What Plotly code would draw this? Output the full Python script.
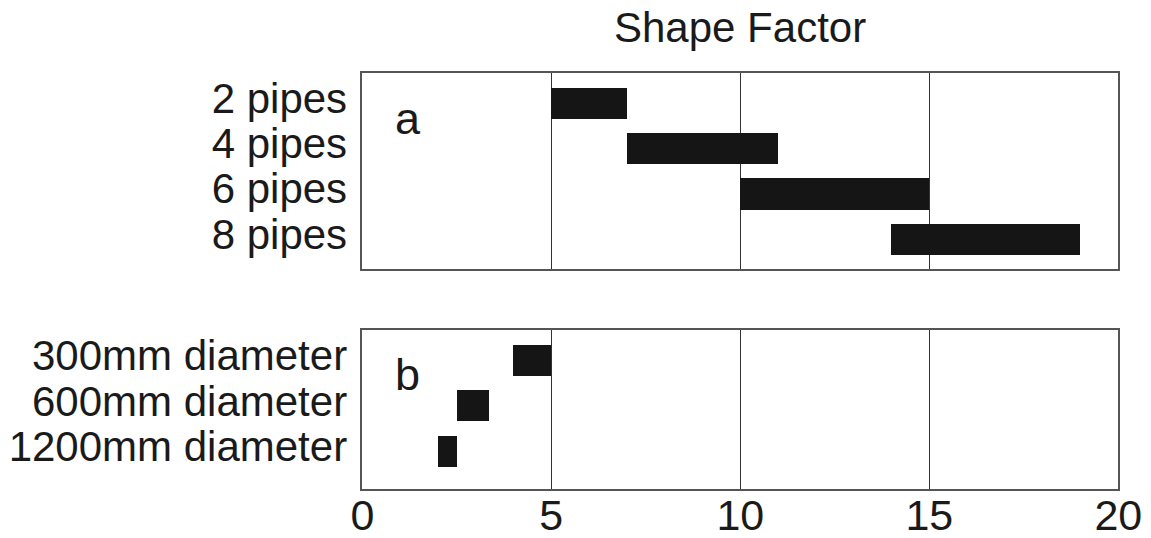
import plotly.graph_objects as go

# Panel a: number of pipes
pipe_labels = ["2 pipes", "4 pipes", "6 pipes", "8 pipes"]
pipe_start = [5, 7, 10, 14]
pipe_end = [7, 11, 15, 19]

# Panel b: pipe diameter
diam_labels = ["300mm diameter", "600mm diameter", "1200mm diameter"]
diam_start = [4.0, 2.5, 2.0]
diam_end = [5.0, 3.35, 2.5]

x_ticks = [0, 5, 10, 15, 20]

FONT = "Liberation Sans, Arial, sans-serif"
BAR = "#151515"

fig = go.Figure()
fig.add_trace(go.Bar(
    y=list(range(len(pipe_labels))),
    x=[e - s for s, e in zip(pipe_start, pipe_end)],
    base=pipe_start, orientation="h", width=0.69,
    marker=dict(color=BAR, line=dict(width=0)),
    xaxis="x", yaxis="y", showlegend=False, hoverinfo="skip"))
fig.add_trace(go.Bar(
    y=list(range(len(diam_labels))),
    x=[e - s for s, e in zip(diam_start, diam_end)],
    base=diam_start, orientation="h", width=0.69,
    marker=dict(color=BAR, line=dict(width=0)),
    xaxis="x2", yaxis="y2", showlegend=False, hoverinfo="skip"))

xd = [0.3148, 0.9716]
common_x = dict(range=[0, 20], domain=xd, tickvals=x_ticks, showgrid=True,
                gridcolor="#333333", gridwidth=1.3, showline=True, mirror=True,
                linecolor="#555555", linewidth=1.6, zeroline=False, ticks="",
                automargin=False)
common_y = dict(showgrid=False, showline=True, mirror=True, linecolor="#555555",
                linewidth=1.6, zeroline=False, ticks="", automargin=False,
                tickfont=dict(family=FONT, size=42, color="#1a1a1a"),
                ticklabelstandoff=5, ticklabelshift=5)

fig.update_layout(
    width=1151, height=538,
    margin=dict(l=0, r=0, t=0, b=0),
    paper_bgcolor="white", plot_bgcolor="white",
    bargap=0,
    xaxis=dict(**common_x, anchor="y", showticklabels=False),
    yaxis=dict(**common_y, domain=[0.4994, 0.8649], range=[3.667, -0.667],
               tickvals=list(range(len(pipe_labels))), ticktext=pipe_labels,
               anchor="x"),
    xaxis2=dict(**common_x, anchor="y2", showticklabels=True,
                tickfont=dict(family=FONT, size=43, color="#1a1a1a"),
                ticklabelstandoff=-13),
    yaxis2=dict(**common_y, domain=[0.0905, 0.3861], range=[2.83, -0.664],
                tickvals=list(range(len(diam_labels))), ticktext=diam_labels,
                anchor="x2"),
    annotations=[
        dict(text="Shape Factor", x=0.5, y=1.0, xref="x domain", yref="paper",
             xanchor="center", yanchor="top", yshift=-2, showarrow=False,
             font=dict(family=FONT, size=42, color="#1a1a1a")),
        dict(text="a", x=1.2, y=0.35, xref="x", yref="y", xanchor="center",
             yanchor="middle", showarrow=False,
             font=dict(family=FONT, size=45, color="#1a1a1a")),
        dict(text="b", x=1.2, y=0.3, xref="x2", yref="y2", xanchor="center",
             yanchor="middle", showarrow=False,
             font=dict(family=FONT, size=45, color="#1a1a1a")),
    ],
)

fig.write_html("out.html", config={"displayModeBar": False},
               post_script="document.body.style.margin='0';document.body.style.overflow='hidden';")
